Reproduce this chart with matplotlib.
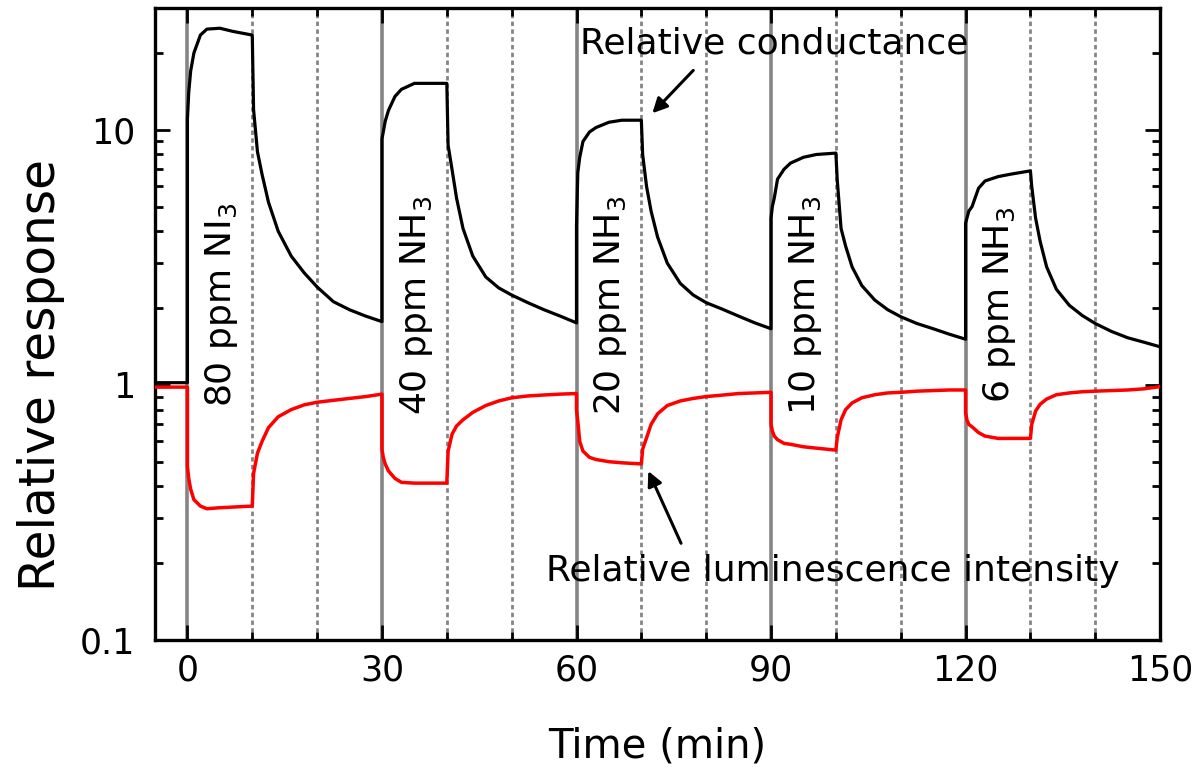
import matplotlib.pyplot as plt

# exposure pulses start every 30 min, gas on for 10 min
cycle_start = [0, 30, 60, 90, 120]
t_rel = [0, 0.2, 0.5, 1, 2, 3, 5, 7, 10, 10.2, 10.8, 11.5, 12.5, 14, 16, 18, 20, 22.5, 25, 27.5, 30]

# relative conductance for each pulse
cond_80 = [11, 14, 17, 20, 23.5, 24.8, 25, 24.3, 23.5, 12, 8.2, 6.7, 5.2, 4.0, 3.2, 2.75, 2.42, 2.12, 1.97, 1.86, 1.77]
cond_40 = [9.2, 9.8, 10.8, 11.9, 13.5, 14.4, 15.2, 15.2, 15.2, 8.7, 7.0, 5.4, 4.1, 3.2, 2.65, 2.4, 2.25, 2.1, 1.97, 1.86, 1.75]
cond_20 = [4.2, 6.8, 7.8, 9.0, 9.8, 10.2, 10.7, 10.9, 10.9, 8.0, 6.0, 4.8, 3.8, 3.0, 2.5, 2.25, 2.1, 1.98, 1.86, 1.75, 1.66]
cond_10 = [4.5, 5.0, 5.4, 6.4, 7.0, 7.4, 7.8, 8.0, 8.1, 6.4, 4.1, 3.5, 2.9, 2.45, 2.15, 1.97, 1.85, 1.74, 1.66, 1.58, 1.51]
cond_6 = [4.3, 4.5, 4.8, 5.0, 5.9, 6.3, 6.55, 6.7, 6.9, 6.0, 4.5, 3.65, 2.9, 2.37, 2.05, 1.87, 1.74, 1.62, 1.53, 1.47, 1.41]

# relative luminescence intensity for each pulse
lum_80 = [0.48, 0.43, 0.39, 0.355, 0.335, 0.327, 0.33, 0.332, 0.335, 0.45, 0.54, 0.60, 0.68, 0.75, 0.80, 0.835, 0.855, 0.87, 0.885, 0.90, 0.92]
lum_40 = [0.56, 0.52, 0.49, 0.46, 0.43, 0.415, 0.412, 0.412, 0.412, 0.55, 0.64, 0.69, 0.73, 0.78, 0.83, 0.865, 0.89, 0.905, 0.913, 0.92, 0.925]
lum_20 = [0.80, 0.72, 0.60, 0.55, 0.52, 0.51, 0.50, 0.495, 0.49, 0.56, 0.62, 0.70, 0.77, 0.83, 0.865, 0.885, 0.90, 0.912, 0.925, 0.93, 0.935]
lum_10 = [0.70, 0.66, 0.63, 0.61, 0.59, 0.585, 0.572, 0.565, 0.555, 0.62, 0.73, 0.80, 0.85, 0.89, 0.915, 0.93, 0.935, 0.945, 0.95, 0.955, 0.955]
lum_6 = [0.78, 0.73, 0.70, 0.685, 0.65, 0.63, 0.617, 0.617, 0.617, 0.70, 0.79, 0.84, 0.88, 0.915, 0.93, 0.94, 0.945, 0.95, 0.955, 0.965, 0.985]

cond_base = 1.02
lum_base = 0.98

labels = ["80 ppm NI$_3$", "40 ppm NH$_3$", "20 ppm NH$_3$", "10 ppm NH$_3$", "6 ppm NH$_3$"]

cond_cycles = [cond_80, cond_40, cond_20, cond_10, cond_6]
lum_cycles = [lum_80, lum_40, lum_20, lum_10, lum_6]

t = [-5, 0]
cond = [cond_base, cond_base]
lum = [lum_base, lum_base]
for s, c, l in zip(cycle_start, cond_cycles, lum_cycles):
    t += [s + x for x in t_rel]
    cond += c
    lum += l

plt.rcParams['font.family'] = ['DejaVu Sans']

fig = plt.figure(figsize=(11.96, 7.79), dpi=100)
ax = fig.add_axes([0.1296, 0.1784, 0.8404, 0.8113])

# gas on (solid) and 10 min marks (dotted)
for x in range(0, 150, 10):
    if x % 30 == 0:
        ax.axvline(x, color='#858585', lw=2.6, zorder=1)
    else:
        ax.axvline(x, color='#858585', lw=2.0, ls=(0, (1.6, 1.2)), zorder=1)

ax.plot(t, cond, color='black', lw=2.3, zorder=3)
ax.plot(t, lum, color='red', lw=2.5, zorder=4)

for s, lab in zip(cycle_start, labels):
    ax.text(s + 5.3, 2.05, lab, rotation=90, ha='center', va='center', fontsize=26, zorder=5)

ax.text(60.5, 21.8, "Relative conductance", fontsize=26, va='center', ha='left', zorder=5)
ax.annotate('', xy=(71.4, 11.4), xytext=(78.3, 17.4),
            arrowprops=dict(arrowstyle='-|>', color='black', lw=2.2, mutation_scale=22))

ax.text(55.3, 0.187, "Relative luminescence intensity", fontsize=26, va='center', ha='left', zorder=5)
ax.annotate('', xy=(70.9, 0.47), xytext=(76.3, 0.234),
            arrowprops=dict(arrowstyle='-|>', color='black', lw=2.2, mutation_scale=22))

ax.set_yscale('log')
ax.set_xlim(-5, 150)
ax.set_ylim(0.1, 30)
ax.set_xticks([0, 30, 60, 90, 120, 150])
ax.set_xticks([10, 20, 40, 50, 70, 80, 100, 110, 130, 140], minor=True)
ax.set_yticks([0.1, 1, 10])
ax.set_yticklabels(["0.1", "1", "10"])

ax.tick_params(which='both', direction='in', top=True, right=True, labelsize=25, width=2)
ax.tick_params(which='major', length=11)
ax.tick_params(which='minor', length=6)
ax.tick_params(axis='x', pad=10)
ax.tick_params(axis='y', pad=14)
for sp in ax.spines.values():
    sp.set_linewidth(2.4)

ax.set_xlabel("Time (min)", fontsize=29, labelpad=28)
ax.set_ylabel("Relative response", fontsize=35)
ax.yaxis.set_label_coords(-0.09, 0.42)

fig.savefig("out.png", dpi=100)
